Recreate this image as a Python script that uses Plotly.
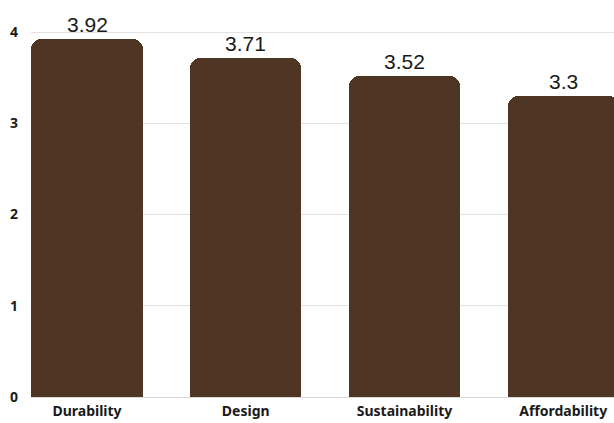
import plotly.graph_objects as go

categories = ["Durability", "Design", "Sustainability", "Affordability"]
scores = [3.92, 3.71, 3.52, 3.3]
y_ticks = [0, 1, 2, 3, 4]

BAR_COLOR = "#4f3524"
LABEL_FONT = dict(family="Liberation Sans, Arial, sans-serif", size=21, color="#1a1a1a")
TICK_FONT = dict(family="Noto Sans, sans-serif", size=14, color="#1a1a1a", weight="bold")

x_pos = list(range(len(categories)))

fig = go.Figure(
    go.Bar(
        x=x_pos,
        y=scores,
        width=0.7,
        marker=dict(color=BAR_COLOR, cornerradius=10, line=dict(width=0)),
        cliponaxis=False,
        hoverinfo="skip",
    )
)

# value labels sitting above each bar
for xi, v in zip(x_pos, scores):
    fig.add_annotation(
        x=xi, y=v, text=str(v), showarrow=False,
        xanchor="center", yanchor="bottom", yshift=1,
        font=LABEL_FONT,
    )

fig.update_layout(
    width=614,
    height=423,
    margin=dict(l=31, r=0, t=0, b=26),
    paper_bgcolor="white",
    plot_bgcolor="white",
    showlegend=False,
    bargap=0,
    xaxis=dict(
        range=[-0.353, 3.32],
        tickmode="array",
        tickvals=x_pos,
        ticktext=categories,
        showgrid=False,
        zeroline=False,
        showline=False,
        ticks="",
        tickfont=TICK_FONT,
        ticklabelstandoff=4,
    ),
    yaxis=dict(
        range=[0, 4.351],
        tickmode="array",
        tickvals=y_ticks,
        ticktext=[str(t) for t in y_ticks],
        showgrid=True,
        gridcolor="#e3e3e3",
        gridwidth=1,
        zeroline=True,
        zerolinecolor="#d9d9d9",
        zerolinewidth=1,
        showline=False,
        ticks="",
        tickfont=TICK_FONT,
        ticklabelstandoff=12,
    ),
)

fig.write_html("out.html")
